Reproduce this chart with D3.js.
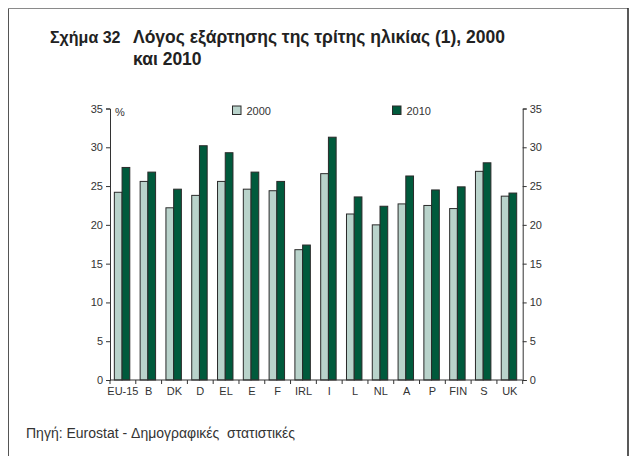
<!DOCTYPE html>
<html>
<head>
<meta charset="utf-8">
<script src="https://cdn.jsdelivr.net/npm/d3@7"></script>
<style>
  body { margin: 0; background: #fff; }
  svg { display: block; font-family: "Liberation Sans", Arial, sans-serif; }
  .axis text { font-size: 11px; fill: #333; }
  .axis path, .axis line { stroke: #333; }
</style>
</head>
<body>
<div class="chart"></div>
<script>
// data
const categories = ["EU-15", "B", "DK", "D", "EL", "E", "F", "IRL", "I", "L", "NL", "A", "P", "FIN", "S", "UK"];
const series = ["2000", "2010"];
const values2000 = [24.2, 25.6, 22.2, 23.8, 25.6, 24.6, 24.4, 16.8, 26.6, 21.4, 20.0, 22.7, 22.5, 22.1, 26.9, 23.7];
const values2010 = [27.4, 26.8, 24.6, 30.2, 29.3, 26.8, 25.6, 17.4, 31.3, 23.6, 22.4, 26.3, 24.5, 24.9, 28.0, 24.1];
const yTicks = [0, 5, 10, 15, 20, 25, 30, 35];

const colors = { "2000": "#b9d3cb", "2010": "#005a3c" };

const chart = {};
chart.width = 631;
chart.height = 456;

chart.svg = d3.select(".chart").append("svg")
    .attr("width", chart.width)
    .attr("height", chart.height);

// frame
chart.svg.append("line").attr("x1", 8.5).attr("x2", 628).attr("y1", 8.5).attr("y2", 8.5)
    .attr("stroke", "#8a8a8a").attr("stroke-width", 1);
chart.svg.append("line").attr("x1", 8.5).attr("x2", 8.5).attr("y1", 8.5).attr("y2", 456)
    .attr("stroke", "#555").attr("stroke-width", 1);
chart.svg.append("line").attr("x1", 628).attr("x2", 628).attr("y1", 8).attr("y2", 456)
    .attr("stroke", "#222").attr("stroke-width", 1.5);

// title
const title = chart.svg.append("g").attr("font-weight", "bold").attr("fill", "#222");
title.append("text").attr("x", 50).attr("y", 43).attr("font-size", 16).text("Σχήμα 32");
title.append("text").attr("x", 133).attr("y", 43).attr("font-size", 17.5).text("Λόγος εξάρτησης της τρίτης ηλικίας (1), 2000");
title.append("text").attr("x", 133).attr("y", 65).attr("font-size", 17.5).text("και 2010");

// source
chart.svg.append("text").attr("x", 26).attr("y", 438)
    .attr("font-size", 14).attr("fill", "#333")
    .attr("style", "white-space: pre")
    .text("Πηγή: Eurostat - Δημογραφικές  στατιστικές");

// scales
chart.x0 = d3.scaleBand().domain(categories).range([110, 522.7]).padding(0);
chart.x1 = d3.scaleBand().domain(series).range([0, chart.x0.bandwidth()])
    .paddingInner(0).paddingOuter(0.67).align(0.42);
chart.y = d3.scaleLinear().domain([0, 35]).range([380, 108.5]);

// bars
const rows = categories.map((c, i) => ({ cat: c, vals: [
    { key: "2000", v: values2000[i] },
    { key: "2010", v: values2010[i] }
]}));

const groups = chart.svg.append("g").selectAll("g")
    .data(rows).join("g")
    .attr("transform", d => `translate(${chart.x0(d.cat)},0)`);

groups.selectAll("rect")
    .data(d => d.vals).join("rect")
    .attr("x", d => chart.x1(d.key))
    .attr("y", d => chart.y(d.v))
    .attr("width", chart.x1.bandwidth())
    .attr("height", d => chart.y(0) - chart.y(d.v))
    .attr("fill", d => colors[d.key])
    .attr("stroke", "#2a2a2a")
    .attr("stroke-width", 1);

// axes
chart.svg.append("g").attr("class", "axis")
    .attr("transform", "translate(110,0)")
    .call(d3.axisLeft(chart.y).tickValues(yTicks).tickSize(4).tickPadding(3).tickFormat(d3.format("d")));

chart.svg.append("g").attr("class", "axis")
    .attr("transform", "translate(522.7,0)")
    .call(d3.axisRight(chart.y).tickValues(yTicks).tickSize(4).tickPadding(3).tickFormat(d3.format("d")));

const xAxis = chart.svg.append("g").attr("class", "axis")
    .attr("transform", "translate(0,380)")
    .call(d3.axisBottom(chart.x0).tickSize(0).tickPadding(7).tickSizeOuter(0));
xAxis.select(".domain").attr("d", "M110,0H522.7");

// category separators on the x axis
chart.svg.append("g").selectAll("line")
    .data(categories.concat(["__end"])).join("line")
    .attr("x1", (d, i) => i < categories.length ? chart.x0(d) : chart.x0(categories[categories.length - 1]) + chart.x0.bandwidth())
    .attr("x2", (d, i) => i < categories.length ? chart.x0(d) : chart.x0(categories[categories.length - 1]) + chart.x0.bandwidth())
    .attr("y1", 380).attr("y2", 384)
    .attr("stroke", "#333");

// % label
chart.svg.append("text").attr("x", 115).attr("y", 116)
    .attr("font-size", 11).attr("fill", "#333").text("%");

// legend
const legendX = [232.5, 392.5];
const legend = chart.svg.append("g").selectAll("g")
    .data(series).join("g")
    .attr("transform", (d, i) => `translate(${legendX[i]},106)`);
legend.append("rect").attr("width", 8.5).attr("height", 8.5)
    .attr("fill", d => colors[d]).attr("stroke", "#2a2a2a");
legend.append("text").attr("x", 14).attr("y", 8.5)
    .attr("font-size", 11).attr("fill", "#333").text(d => d);
</script>
</body>
</html>
